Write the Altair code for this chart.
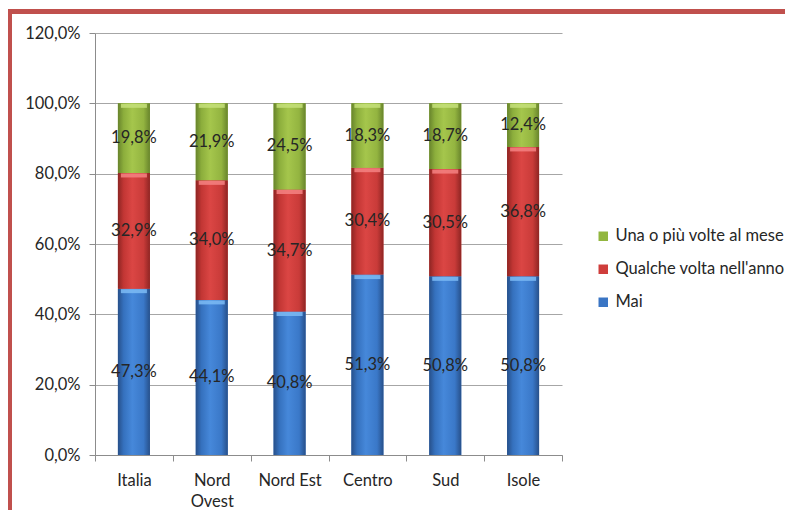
import altair as alt
import pandas as pd

regions = ["Italia", "Nord Ovest", "Nord Est", "Centro", "Sud", "Isole"]
mai = [47.3, 44.1, 40.8, 51.3, 50.8, 50.8]
qualche = [32.9, 34.0, 34.7, 30.4, 30.5, 36.8]
una = [19.8, 21.9, 24.5, 18.3, 18.7, 12.4]
series = ["Mai", "Qualche volta nell'anno", "Una o più volte al mese"]
legend_order = ["Una o più volte al mese", "Qualche volta nell'anno", "Mai"]
y_ticks = [0, 20, 40, 60, 80, 100, 120]

rows = []
for i, r in enumerate(regions):
    for k, (s, vals) in enumerate(zip(series, [mai, qualche, una])):
        rows.append({"region": r, "series": s, "order": k, "value": vals[i]})
df = pd.DataFrame(rows)

FONT = "Lato"
TXT = "#262626"
FS = 16.5

solid = {"Mai": "#3A75C4", "Qualche volta nell'anno": "#CF3D3B", "Una o più volte al mese": "#92B63F"}
bevel = {"Mai": "#7DBBF5", "Qualche volta nell'anno": "#F48383", "Una o più volte al mese": "#C6E07A"}
grad_stops = {
    "Mai": ["#27508A", "#3571BE", "#4688DA", "#3A78C8", "#27508A"],
    "Qualche volta nell'anno": ["#8E2523", "#C23634", "#DB4644", "#C93B39", "#8E2523"],
    "Una o più volte al mese": ["#68842C", "#8CAE3C", "#A5C64C", "#93B440", "#68842C"],
}
offsets = [0, 0.18, 0.45, 0.8, 1]


def grad(name):
    return alt.Gradient(
        gradient="linear", x1=0, x2=1, y1=0, y2=0,
        stops=[alt.GradientStop(color=c, offset=o) for c, o in zip(grad_stops[name], offsets)],
    )


base = alt.Chart(df).transform_stack(
    stack="value", groupby=["region"], as_=["y0", "y1"],
    sort=[alt.SortField("order", order="ascending")],
).transform_calculate(
    mid="(datum.y0 + datum.y1) / 2",
    label="replace(format(datum.value, '.1f'), '.', ',') + '%'",
)

x_enc = alt.X(
    "region:N", sort=regions, title=None,
    scale=alt.Scale(paddingInner=0, paddingOuter=0),
    axis=alt.Axis(
        labelAngle=0, tickBand="extent", tickSize=6, tickColor="#8C8C8C",
        domainColor="#8C8C8C", labelFont=FONT, labelFontSize=FS, labelColor=TXT,
        labelPadding=11, labelLineHeight=21, grid=False,
        labelExpr="datum.value == 'Nord Ovest' ? ['Nord', 'Ovest'] : datum.value",
    ),
)
y_scale = alt.Scale(domain=[0, 120], nice=False)
y_enc = alt.Y(
    "y1:Q", title=None, scale=y_scale,
    axis=alt.Axis(
        values=y_ticks, tickSize=6, tickColor="#8C8C8C", domainColor="#8C8C8C",
        gridColor="#A6A6A6", labelFont=FONT, labelFontSize=FS, labelColor=TXT,
        labelPadding=9,
        labelExpr="replace(format(datum.value, '.1f'), '.', ',') + '%'",
    ),
)

legend_layer = base.mark_bar(width=32).encode(
    x=x_enc, y=y_enc, y2="y0:Q",
    color=alt.Color(
        "series:N", scale=alt.Scale(domain=legend_order, range=[solid[s] for s in legend_order]),
        legend=alt.Legend(
            title=None, orient="none", legendX=500, legendY=195, symbolType="square",
            symbolSize=90, symbolStrokeWidth=0, labelFont=FONT, labelFontSize=FS,
            labelColor=TXT, rowPadding=16, labelOffset=4, labelLimit=400,
        ),
    ),
)

grad_layers = [
    base.transform_filter(alt.datum.series == s).mark_bar(width=32, fill=grad(s)).encode(
        x=x_enc, y=y_enc, y2="y0:Q"
    )
    for s in series
]

bevel_layers = [
    base.transform_filter(alt.datum.series == s).mark_tick(
        size=26, thickness=4, yOffset=2.5, color=bevel[s], opacity=0.85
    ).encode(x=x_enc, y=alt.Y("y1:Q", scale=y_scale))
    for s in series
]

labels = base.mark_text(font=FONT, fontSize=FS, color=TXT).encode(
    x=x_enc, y=alt.Y("mid:Q", scale=y_scale), text="label:N"
)

border_v = alt.Chart(df).mark_rule(color="#C0504D", strokeWidth=4).encode(
    x=alt.value(-85.5), y=alt.value(-23.5), y2=alt.value(490)
)
border_h = alt.Chart(df).mark_rule(color="#C0504D", strokeWidth=4).encode(
    x=alt.value(-87.5), x2=alt.value(700), y=alt.value(-21.5)
)

chart = alt.layer(legend_layer, *grad_layers, *bevel_layers, labels, border_v, border_h).properties(
    width=467, height=422,
    autosize=alt.AutoSizeParams(type="none"),
    padding={"left": 87, "top": 25, "right": 223, "bottom": 55},
).configure_view(stroke=None)

chart.save("out.html", embed_options={"renderer": "svg", "actions": False})
